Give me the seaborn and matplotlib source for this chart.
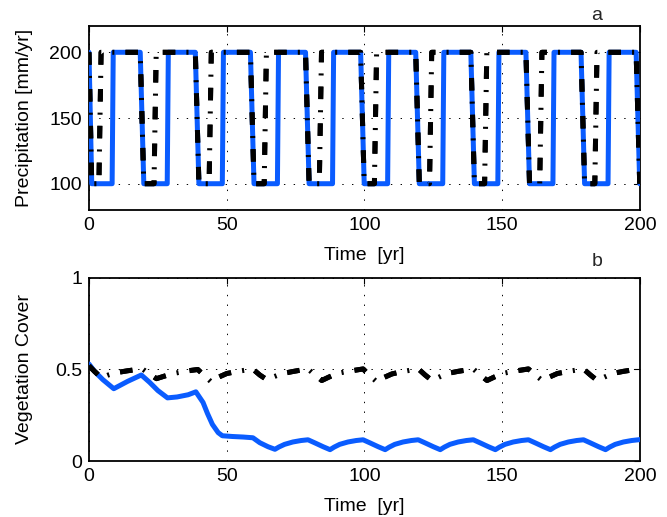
import matplotlib
matplotlib.use("Agg")
import matplotlib.pyplot as plt
import seaborn as sns
import pandas as pd

# ---------------- data ----------------
# Panel a: precipitation (corner points of the square waves)
blue_p_t = [0, 1, 8.4, 8.8, 18.6, 19.9, 28.4, 28.8, 38.6, 39.9, 48.4, 48.8,
            58.6, 59.9, 68.4, 68.8, 78.6, 79.9, 88.4, 88.8, 98.6, 99.9,
            108.4, 108.8, 118.6, 119.9, 128.4, 128.8, 138.6, 139.9, 148.4, 148.8,
            158.6, 159.9, 168.4, 168.8, 178.6, 179.9, 188.4, 188.8, 198.6, 199.9]
blue_p = [200, 100, 100, 200, 200, 100, 100, 200, 200, 100, 100, 200,
          200, 100, 100, 200, 200, 100, 100, 200, 200, 100,
          100, 200, 200, 100, 100, 200, 200, 100, 100, 200,
          200, 100, 100, 200, 200, 100, 100, 200, 200, 100]

black_p_t = [0, 1, 3.6, 4.4, 18.6, 19.9, 23.6, 24.4, 38.6, 39.9, 43.6, 44.4,
             58.6, 59.9, 63.6, 64.4, 78.6, 79.9, 83.6, 84.4, 98.6, 99.9,
             103.6, 104.4, 118.6, 119.9, 123.6, 124.4, 138.6, 139.9, 143.6, 144.4,
             158.6, 159.9, 163.6, 164.4, 178.6, 179.9, 183.6, 184.4, 198.6, 199.9]
black_p = [200, 100, 100, 200, 200, 100, 100, 200, 200, 100, 100, 200,
           200, 100, 100, 200, 200, 100, 100, 200, 200, 100,
           100, 200, 200, 100, 100, 200, 200, 100, 100, 200,
           200, 100, 100, 200, 200, 100, 100, 200, 200, 100]

# Panel b: vegetation cover
blue_v_t = [0, 2, 5, 9, 14, 19, 22, 25, 28.5, 32, 36, 38.8,
            41.4, 43, 44.8, 46.9, 48.4, 52, 56, 59.5,
            62, 65, 67.5, 69, 71, 74, 77, 79.5,
            82, 85, 87.5, 89, 91, 94, 97, 99.5,
            102, 105, 107.5, 109, 111, 114, 117, 119.5,
            122, 125, 127.5, 129, 131, 134, 137, 139.5,
            142, 145, 147.5, 149, 151, 154, 157, 159.5,
            162, 165, 167.5, 169, 171, 174, 177, 179.5,
            182, 185, 187.5, 189, 191, 194, 197, 200]
blue_v = [0.53, 0.49, 0.445, 0.395, 0.435, 0.47, 0.43, 0.385, 0.345, 0.35, 0.362, 0.378,
          0.32, 0.26, 0.2, 0.155, 0.138, 0.134, 0.131, 0.127,
          0.1, 0.078, 0.064, 0.077, 0.091, 0.104, 0.112, 0.116,
          0.099, 0.078, 0.062, 0.076, 0.091, 0.104, 0.112, 0.116,
          0.099, 0.078, 0.062, 0.076, 0.091, 0.104, 0.112, 0.116,
          0.099, 0.078, 0.062, 0.076, 0.091, 0.104, 0.112, 0.116,
          0.099, 0.078, 0.062, 0.076, 0.091, 0.104, 0.112, 0.116,
          0.099, 0.078, 0.062, 0.076, 0.091, 0.104, 0.112, 0.116,
          0.099, 0.078, 0.062, 0.076, 0.091, 0.104, 0.112, 0.117]

black_v_t = [0, 2, 4.5, 7, 10, 14, 17, 19.5,
             22, 24.5, 27, 30, 34, 37, 39.5,
             42, 44.5, 47, 50, 54, 57, 59.5,
             62, 64.5, 67, 70, 74, 77, 79.5,
             82, 84.5, 87, 90, 94, 97, 99.5,
             102, 104.5, 107, 110, 114, 117, 119.5,
             122, 124.5, 127, 130, 134, 137, 139.5,
             142, 144.5, 147, 150, 154, 157, 159.5,
             162, 164.5, 167, 170, 174, 177, 179.5,
             182, 184.5, 187, 190, 194, 197, 200]
black_v = [0.52, 0.49, 0.455, 0.47, 0.483, 0.493, 0.499, 0.502,
           0.475, 0.45, 0.462, 0.476, 0.488, 0.495, 0.5,
           0.465, 0.43, 0.458, 0.478, 0.49, 0.497, 0.502,
           0.47, 0.445, 0.46, 0.477, 0.489, 0.497, 0.503,
           0.47, 0.44, 0.458, 0.478, 0.49, 0.497, 0.503,
           0.465, 0.432, 0.456, 0.476, 0.489, 0.497, 0.504,
           0.47, 0.44, 0.458, 0.478, 0.49, 0.497, 0.503,
           0.47, 0.44, 0.458, 0.478, 0.49, 0.497, 0.503,
           0.47, 0.44, 0.458, 0.478, 0.49, 0.497, 0.503,
           0.47, 0.44, 0.458, 0.478, 0.49, 0.497, 0.503]

x_ticks = [0, 50, 100, 150, 200]
p_ticks = [100, 150, 200]
v_ticks = [0, 0.5, 1]
v_tick_labels = ["0", "0.5", "1"]

# ---------------- style ----------------
sns.set_style("white")
plt.rcParams["font.family"] = ["Liberation Sans", "DejaVu Sans"]
plt.rcParams["lines.scale_dashes"] = False
plt.rcParams["xtick.direction"] = "in"
plt.rcParams["ytick.direction"] = "in"
plt.rcParams["xtick.top"] = True
plt.rcParams["ytick.right"] = True

BLUE = "#0a5cff"
LW = 3.6
FS = 14
dash_style = (0, (9, 17.5))
dashdot_style = (0, (9, 8, 1.5, 8))

fig = plt.figure(figsize=(6.67, 5.17), dpi=100)
ax1 = fig.add_axes([0.1334, 0.5938, 0.8261, 0.3559])
ax2 = fig.add_axes([0.1334, 0.1083, 0.8261, 0.3540])

dfp_b = pd.DataFrame({"t": blue_p_t, "p": blue_p})
dfp_k = pd.DataFrame({"t": black_p_t, "p": black_p})
dfv_b = pd.DataFrame({"t": blue_v_t, "v": blue_v})
dfv_k = pd.DataFrame({"t": black_v_t, "v": black_v})

common = dict(estimator=None, sort=False, legend=False)

sns.lineplot(data=dfp_b, x="t", y="p", ax=ax1, color=BLUE, linewidth=LW,
             solid_joinstyle="round", solid_capstyle="round", zorder=3, **common)
sns.lineplot(data=dfp_k, x="t", y="p", ax=ax1, color="black", linewidth=LW,
             linestyle=dash_style, zorder=4, **common)
sns.lineplot(data=dfp_k, x="t", y="p", ax=ax1, color="black", linewidth=LW,
             linestyle=dashdot_style, zorder=5, **common)

sns.lineplot(data=dfv_b, x="t", y="v", ax=ax2, color=BLUE, linewidth=LW,
             solid_joinstyle="round", solid_capstyle="round", zorder=3, **common)
sns.lineplot(data=dfv_k, x="t", y="v", ax=ax2, color="black", linewidth=LW,
             linestyle=dash_style, zorder=4, **common)
sns.lineplot(data=dfv_k, x="t", y="v", ax=ax2, color="black", linewidth=LW,
             linestyle=dashdot_style, zorder=5, **common)

for ax in (ax1, ax2):
    ax.set_xlim(0, 200)
    ax.set_xticks(x_ticks)
    ax.set_xticklabels([str(v) for v in x_ticks])
    ax.set_xlabel("Time  [yr]", fontsize=FS, color="black")
    ax.xaxis.set_label_coords(0.5, -0.2)
    ax.grid(True, color="black", linestyle=(0, (1, 6)), linewidth=0.7)
    ax.tick_params(axis="both", which="both", direction="in", length=4,
                   width=0.8, labelsize=FS, colors="black", top=True, right=True,
                   pad=5)
    for s in ax.spines.values():
        s.set_color("black")
        s.set_linewidth(1.3)
    ax.set_axisbelow(True)

ax1.set_ylim(80, 220)
ax1.set_yticks(p_ticks)
ax1.set_yticklabels([str(v) for v in p_ticks])
ax1.set_ylabel("Precipitation [mm/yr]", fontsize=FS, color="black")
ax1.yaxis.set_label_coords(-0.102, 0.5)

ax2.set_ylim(0, 1)
ax2.set_yticks(v_ticks)
ax2.set_yticklabels(v_tick_labels)
ax2.set_ylabel("Vegetation Cover", fontsize=FS, color="black")
ax2.yaxis.set_label_coords(-0.102, 0.5)

fig.text(597 / 667, 1 - 15 / 517, "a", fontsize=FS, ha="center", va="center")
fig.text(597 / 667, 1 - 262 / 517, "b", fontsize=FS, ha="center", va="center")

fig.savefig("out.png", dpi=100)
